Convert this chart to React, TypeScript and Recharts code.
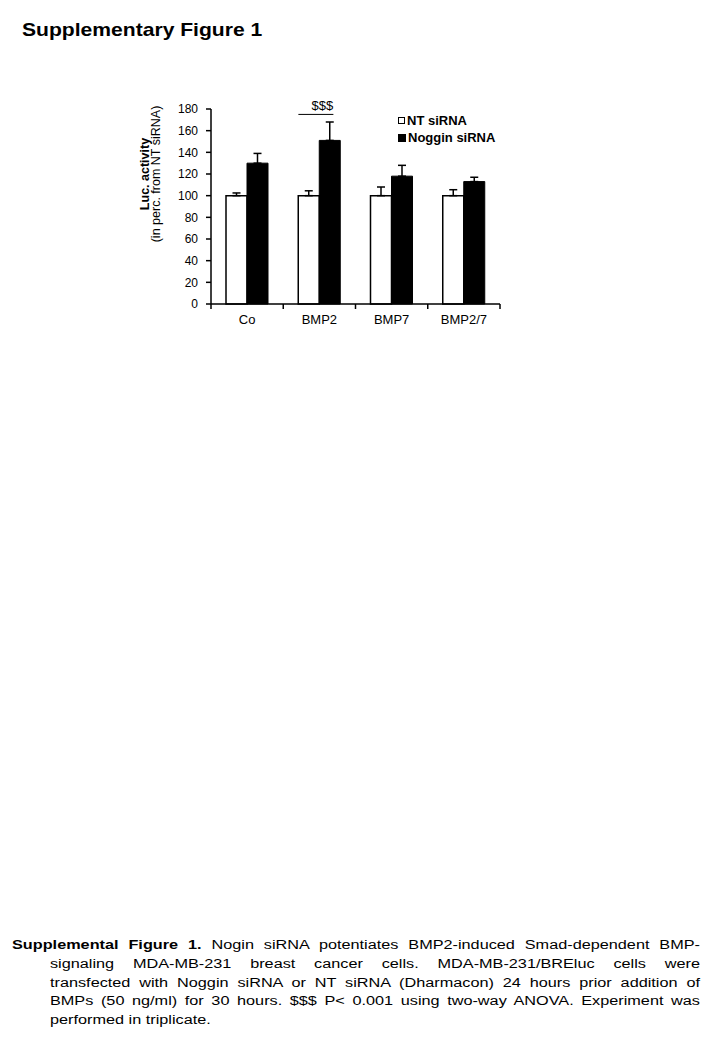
import React from 'react';
import { BarChart, Bar, XAxis, YAxis, ErrorBar, ReferenceLine } from 'recharts';

// values
const categories = ['Co', 'BMP2', 'BMP7', 'BMP2/7'];
const ntValues = [100, 100, 100, 100];
const ntErrors = [2.5, 4.5, 8, 5.5];
const nogginValues = [130, 151, 118, 113];
const nogginErrors = [9, 17, 10, 4];
const yTicks = [0, 20, 40, 60, 80, 100, 120, 140, 160, 180];
const sigCategory = 'BMP2';
const sigLevel = 175;
const sigText = '$$$';

const captionLines = [
  'Nogin siRNA potentiates BMP2-induced Smad-dependent BMP-',
  'signaling MDA-MB-231 breast cancer cells. MDA-MB-231/BREluc cells were',
  'transfected with Noggin siRNA or NT siRNA (Dharmacon) 24  hours prior addition of',
  'BMPs (50 ng/ml) for 30 hours. $$$ P< 0.001 using two-way ANOVA. Experiment was',
  'performed in triplicate.',
];

const data = categories.map((c, i) => ({
  name: c,
  nt: ntValues[i],
  ntErr: [0, ntErrors[i]],
  noggin: nogginValues[i],
  nogginErr: [0, nogginErrors[i]],
}));

const FONT = '"Liberation Sans", Arial, sans-serif';
const PLOT_W = 289;
const BAND = PLOT_W / categories.length;
// the source scan is stretched sideways, so the text is too
const STRETCH = 1.3;

const XTick = (props: any) => {
  const { x, y, payload, index } = props;
  return (
    <g>
      {index === 0 && <line x1={x - BAND / 2} x2={x - BAND / 2} y1={y} y2={y + 5} stroke="#000" strokeWidth={1.5} />}
      <line x1={x + BAND / 2} x2={x + BAND / 2} y1={y} y2={y + 5} stroke="#000" strokeWidth={1.5} />
      <text x={x} y={y + 20} textAnchor="middle" fontSize={13} fontFamily={FONT} fill="#000">
        {payload.value}
      </text>
    </g>
  );
};

const YLabel = (props: any) => {
  const { viewBox } = props;
  const cy = viewBox.y + 65;
  return (
    <g fontFamily={FONT} fill="#000" fontSize={12.5}>
      <text x={145} y={cy} transform={`rotate(-90 145 ${cy})`} textAnchor="middle" dominantBaseline="central" fontWeight="bold">
        Luc. activity
      </text>
      <text x={156} y={cy} transform={`rotate(-90 156 ${cy})`} textAnchor="middle" dominantBaseline="central">
        (in perc. from NT siRNA)
      </text>
    </g>
  );
};

const SigLine = (props: any) => {
  const { x1, y1 } = props;
  return (
    <g>
      <line x1={x1 - 21} x2={x1 + 14} y1={y1} y2={y1} stroke="#000" strokeWidth={1} />
      <text x={x1 + 3} y={y1 - 4.5} textAnchor="middle" fontSize={13} fontFamily={FONT} fill="#000">
        {sigText}
      </text>
    </g>
  );
};

const LegendBox = () => (
  <div style={{ position: 'absolute', left: 398, top: 112, fontFamily: FONT, fontSize: 13, fontWeight: 'bold', lineHeight: '17px' }}>
    <div style={{ display: 'flex', alignItems: 'center' }}>
      <span style={{ width: 5, height: 5, border: '1.5px solid #000', background: '#fff', marginRight: 2, display: 'inline-block' }} />
      NT siRNA
    </div>
    <div style={{ display: 'flex', alignItems: 'center' }}>
      <span style={{ width: 8, height: 8, background: '#000', marginRight: 2, display: 'inline-block' }} />
      Noggin siRNA
    </div>
  </div>
);

export default function App() {
  return (
    <div style={{ position: 'absolute', left: 0, top: 0, width: 720, height: 1040, background: '#fff', fontFamily: FONT, color: '#000' }}>
      <div
        style={{
          position: 'absolute',
          left: 22,
          top: 20,
          fontSize: 19,
          lineHeight: '20px',
          fontWeight: 'bold',
          whiteSpace: 'nowrap',
          transform: 'scaleX(1.11)',
          transformOrigin: 'left top',
        }}
      >
        Supplementary Figure 1
      </div>

      <div style={{ position: 'absolute', left: 0, top: 0 }}>
        <BarChart
          width={720}
          height={340}
          data={data}
          margin={{ top: 109, right: 220, bottom: 6, left: 0 }}
          barGap={0}
          barCategoryGap={15}
        >
          <XAxis
            dataKey="name"
            height={30}
            tickLine={false}
            tickSize={0}
            tickMargin={0}
            tick={<XTick />}
            axisLine={{ stroke: '#000', strokeWidth: 1.5 }}
            interval={0}
          />
          <YAxis
            width={211}
            domain={[0, 180]}
            ticks={yTicks}
            interval={0}
            tickSize={5}
            tickMargin={8}
            tickLine={{ stroke: '#000', strokeWidth: 1.5 }}
            axisLine={{ stroke: '#000', strokeWidth: 1.5 }}
            tick={{ fill: '#000', fontSize: 12, fontFamily: FONT }}
            label={<YLabel />}
          />
          <Bar dataKey="nt" fill="#fff" stroke="#000" strokeWidth={1.5} isAnimationActive={false}>
            <ErrorBar dataKey="ntErr" width={4} stroke="#000" strokeWidth={1.5} direction="y" />
          </Bar>
          <Bar dataKey="noggin" fill="#000" stroke="#000" strokeWidth={1} isAnimationActive={false}>
            <ErrorBar dataKey="nogginErr" width={4} stroke="#000" strokeWidth={1.5} direction="y" />
          </Bar>
          <ReferenceLine
            segment={[{ x: sigCategory, y: sigLevel }, { x: sigCategory, y: sigLevel }]}
            shape={<SigLine />}
          />
        </BarChart>
      </div>
      <LegendBox />

      <div
        style={{
          position: 'absolute',
          left: 12,
          top: 936,
          width: 688 / STRETCH,
          fontSize: 12.5,
          lineHeight: '18.8px',
          transform: `scaleX(${STRETCH})`,
          transformOrigin: 'left top',
        }}
      >
        {captionLines.map((line, i) => (
          <div
            key={i}
            style={{
              paddingLeft: i === 0 ? 0 : 38 / STRETCH,
              textAlign: 'justify',
              textAlignLast: i === captionLines.length - 1 ? 'left' : 'justify',
              whiteSpace: 'nowrap',
            }}
          >
            {i === 0 && <b>Supplemental Figure 1. </b>}
            {line}
          </div>
        ))}
      </div>
    </div>
  );
}
